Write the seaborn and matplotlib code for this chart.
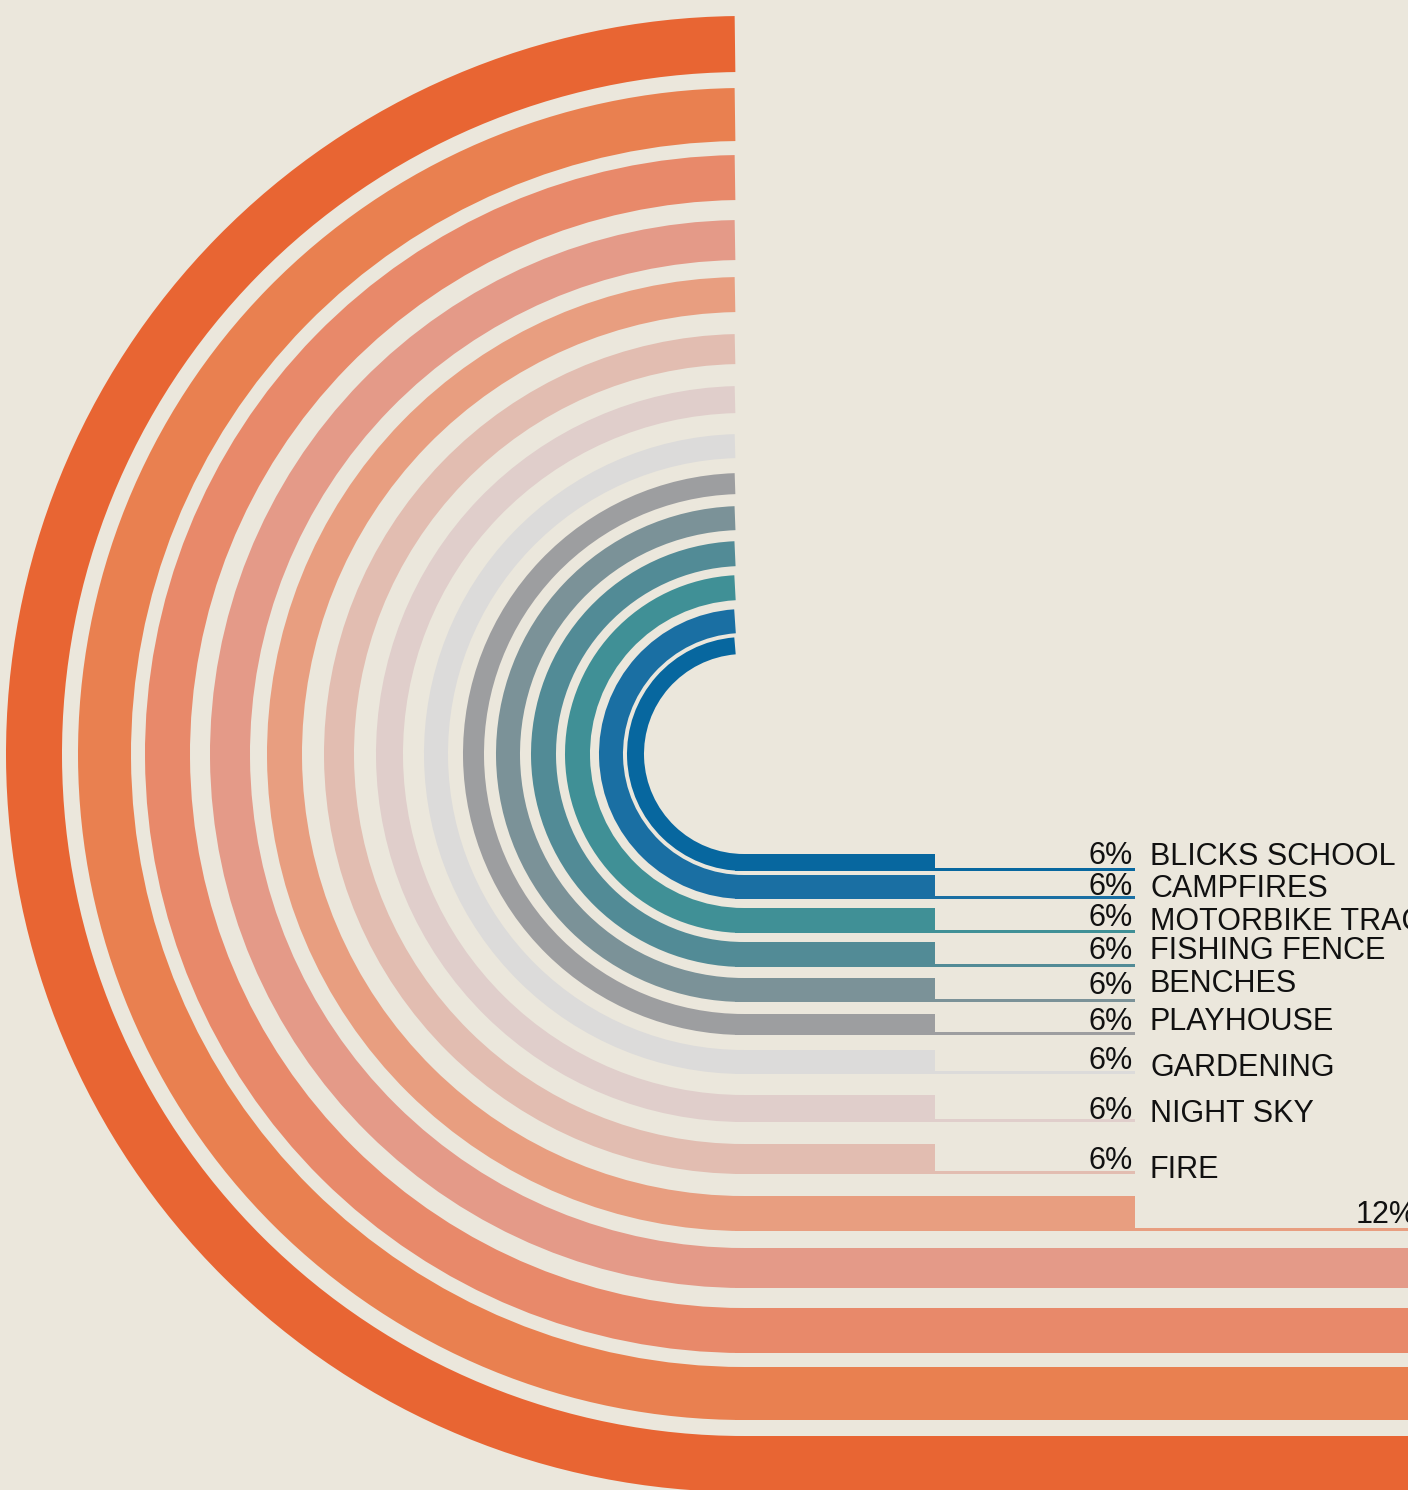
import numpy as np
import pandas as pd
import matplotlib
matplotlib.use("Agg")
import matplotlib.pyplot as plt
from matplotlib.patches import Wedge
import seaborn as sns

# ---------------- data (inner band -> outer band) ----------------
categories = ["BLICKS SCHOOL", "CAMPFIRES", "MOTORBIKE TRACK", "FISHING FENCE",
              "BENCHES", "PLAYHOUSE", "GARDENING", "NIGHT SKY", "FIRE",
              None, None, None, None, None]
values = [6, 6, 6, 6, 6, 6, 6, 6, 6, 12, 24, 29, 35, 41]
colors = ["#07679F", "#1A6FA3", "#409096", "#528B96", "#7B9298", "#9D9EA0",
          "#DCDBDA", "#E0CECB", "#E2BDB1", "#E89E80", "#E49A88", "#E8896A",
          "#E98050", "#E86533"]

# ---------------- layout (pixels) ----------------
W_PX, H_PX = 1408, 1490
X0_PX, CY_PX, CX_PX = 735, 754, 744
S = 200 / 6.0  # pixels per percentage point
r_out_px = [117, 145, 179, 213, 248, 281, 320, 368, 420, 477, 534, 599, 666, 738]
width_px = [17, 24, 25, 25, 24, 21, 24, 27, 30, 35, 40, 45, 53, 56]
line_gap = [6, 6, 6, 6, 6, 6, 6, 6, 6, 8.5, 6, 6, 6, 6]
val_nudge = [7, 4, 7, 8, 8, 5, 5, 3, 5, 8, 6, 6, 6, 6]
name_nudge = [6, 2, 3, 8, 10, 5, -2, 0, -4, 6, 6, 6, 6, 6]
BG = "#EBE7DC"

sns.set_theme(style="white", rc={"figure.facecolor": BG, "axes.facecolor": BG})
plt.rcParams["font.family"] = ["Liberation Sans", "DejaVu Sans"]

df = pd.DataFrame({"category": categories, "value": values, "color": colors,
                   "r_out": np.array(r_out_px) / S, "w": np.array(width_px) / S,
                   "gap": line_gap, "vn": val_nudge, "nn": name_nudge})

fig = plt.figure(figsize=(W_PX / 100, H_PX / 100), dpi=100, facecolor=BG)
ax = fig.add_axes([0, 0, 1, 1])
ax.set_xlim(-X0_PX / S, (W_PX - X0_PX) / S)
ax.set_ylim((CY_PX - H_PX) / S, CY_PX / S)
ax.set_axis_off()

cx = (CX_PX - X0_PX) / S
xmax = (W_PX - X0_PX) / S
line_h = 3 / S

for _, row in df.iterrows():
    r_out, w, v = row["r_out"], row["w"], row["value"]
    r_mid = r_out - w / 2
    theta_start = 90 + np.degrees(np.arcsin(cx / r_mid))
    ax.add_patch(Wedge((cx, 0), r_out, theta_start, 270, width=w,
                       facecolor=row["color"], edgecolor="none", zorder=2))
    # straight bar
    ax.barh(-r_out + w / 2, v, height=w, left=0, color=row["color"],
            edgecolor="none", zorder=3)
    # thin leader line to the label
    line_end = v + row["gap"]
    ax.barh(-r_out + line_h / 2, line_end, height=line_h, left=0,
            color=row["color"], edgecolor="none", zorder=1)
    if line_end <= xmax + 3:
        ax.text(line_end - 2 / S, -r_out + row["vn"] / S, f"{v}%",
                ha="right", va="baseline", fontsize=22, color="#111111", zorder=5)
    if row["category"] is not None:
        ax.text(line_end + 15 / S, -r_out + row["nn"] / S, row["category"],
                ha="left", va="baseline", fontsize=22, color="#111111", zorder=5)

fig.savefig("out.png", dpi=100, facecolor=BG)
